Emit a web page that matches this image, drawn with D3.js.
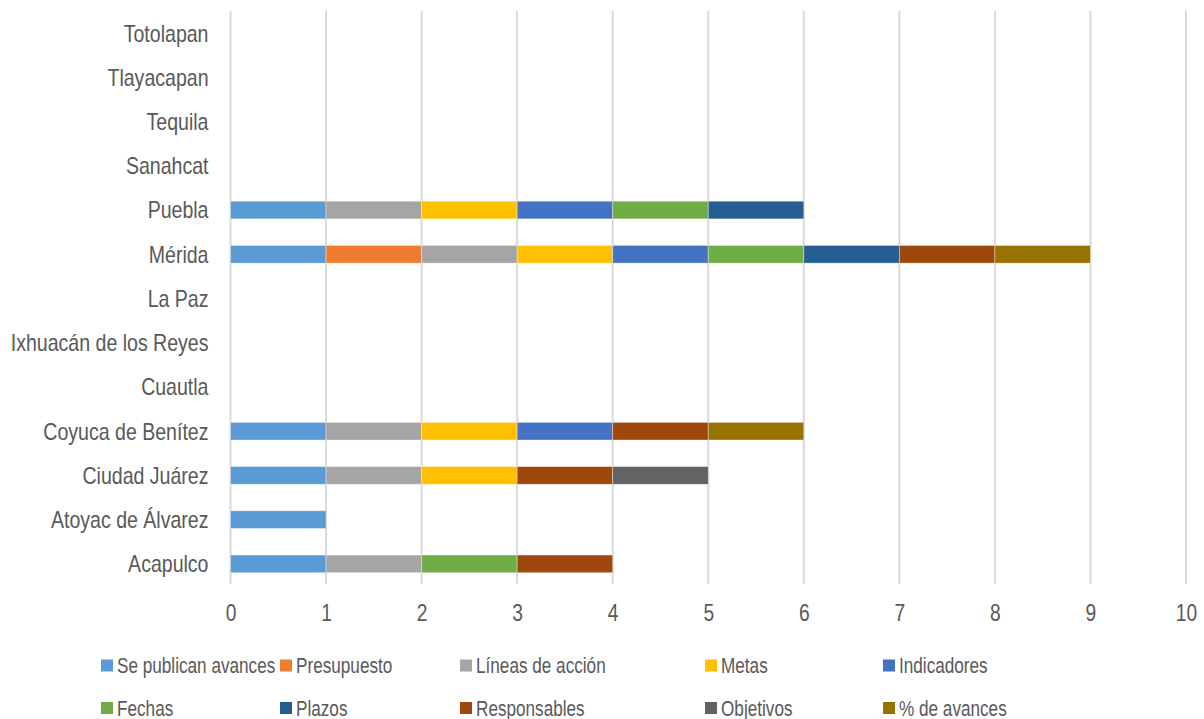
<!DOCTYPE html>
<html lang="es">
  <head>
    <meta charset="UTF-8">
    <title>Elementos publicados por municipio</title>
    <style>
      body { margin: 0; background: #fff; }
      text {
        font-family: "Liberation Sans", Arial, sans-serif;
        fill: #595959;
      }
      .grid line { stroke: #d9d9d9; stroke-width: 2; }
    </style>
  </head>
  <body>
    <svg id="chart"></svg>

    <script src="https://cdn.jsdelivr.net/npm/d3@7/dist/d3.min.js"></script>

    <script>
      // Municipalities, bottom to top as in the chart
      var municipios = ["Acapulco", "Atoyac de Álvarez", "Ciudad Juárez", "Coyuca de Benítez",
        "Cuautla", "Ixhuacán de los Reyes", "La Paz", "Mérida", "Puebla",
        "Sanahcat", "Tequila", "Tlayacapan", "Totolapan"];

      var series = ["Se publican avances", "Presupuesto", "Líneas de acción", "Metas",
        "Indicadores", "Fechas", "Plazos", "Responsables", "Objetivos", "% de avances"];

      var colores = ["#5b9bd5", "#ed7d31", "#a5a5a5", "#ffc000", "#4472c4",
        "#70ad47", "#255e91", "#9e480e", "#636363", "#997300"];

      // One value per municipality (same order as municipios)
      var sePublicanAvances = [1, 1, 1, 1, 0, 0, 0, 1, 1, 0, 0, 0, 0];
      var presupuesto       = [0, 0, 0, 0, 0, 0, 0, 1, 0, 0, 0, 0, 0];
      var lineasDeAccion    = [1, 0, 1, 1, 0, 0, 0, 1, 1, 0, 0, 0, 0];
      var metas             = [0, 0, 1, 1, 0, 0, 0, 1, 1, 0, 0, 0, 0];
      var indicadores       = [0, 0, 0, 1, 0, 0, 0, 1, 1, 0, 0, 0, 0];
      var fechas            = [1, 0, 0, 0, 0, 0, 0, 1, 1, 0, 0, 0, 0];
      var plazos            = [0, 0, 0, 0, 0, 0, 0, 1, 1, 0, 0, 0, 0];
      var responsables      = [1, 0, 1, 1, 0, 0, 0, 1, 0, 0, 0, 0, 0];
      var objetivos         = [0, 0, 1, 0, 0, 0, 0, 0, 0, 0, 0, 0, 0];
      var pctAvances        = [0, 0, 0, 1, 0, 0, 0, 1, 0, 0, 0, 0, 0];

      var xTicks = [0, 1, 2, 3, 4, 5, 6, 7, 8, 9, 10];

      var valores = [sePublicanAvances, presupuesto, lineasDeAccion, metas, indicadores,
        fechas, plazos, responsables, objetivos, pctAvances];

      var width = 1204, height = 719;
      var margin = { top: 11, right: 18, bottom: 135, left: 230.5 };

      var svg = d3.select("#chart")
        .attr("width", width)
        .attr("height", height);

      // Build rows for d3.stack
      var rows = municipios.map(function(m, i) {
        var row = { municipio: m };
        series.forEach(function(s, j) { row[s] = valores[j][i]; });
        return row;
      });

      var stacked = d3.stack().keys(series)(rows);

      var x = d3.scaleLinear()
        .domain([0, 10])
        .range([margin.left, margin.left + 95.55 * 10]);

      var y = d3.scaleBand()
        .domain(municipios.slice().reverse())
        .range([margin.top, height - margin.bottom + 2])
        .paddingInner(0.6)
        .paddingOuter(0.3);

      var color = d3.scaleOrdinal().domain(series).range(colores);

      // Vertical gridlines
      svg.append("g")
        .attr("class", "grid")
        .selectAll("line")
        .data(xTicks)
        .enter()
        .append("line")
        .attr("x1", function(d) { return x(d); })
        .attr("x2", function(d) { return x(d); })
        .attr("y1", margin.top)
        .attr("y2", height - margin.bottom);

      // Stacked bars
      svg.append("g")
        .selectAll("g")
        .data(stacked)
        .enter()
        .append("g")
        .attr("fill", function(d) { return color(d.key); })
        .selectAll("rect")
        .data(function(d) { return d.filter(function(p) { return p[1] > p[0]; }); })
        .enter()
        .append("rect")
        .attr("x", function(d) { return x(d[0]); })
        .attr("width", function(d) { return x(d[1]) - x(d[0]); })
        .attr("y", function(d) { return y(d.data.municipio); })
        .attr("height", y.bandwidth())
        .attr("stroke", "#fff")
        .attr("stroke-opacity", 0.5)
        .attr("stroke-width", 0.75);

      // X axis labels (narrow font look via horizontal scale)
      var xAxis = svg.append("g")
        .attr("transform", "translate(0," + (height - margin.bottom) + ")")
        .call(d3.axisBottom(x).tickValues(xTicks).tickSize(0).tickPadding(20));
      xAxis.select(".domain").remove();
      xAxis.selectAll("text")
        .attr("fill", "#595959")
        .attr("transform", "scale(0.8,1)")
        .style("font-size", "24px")
        .style("font-family", null);

      // Y axis labels
      var yAxis = svg.append("g")
        .attr("transform", "translate(" + (margin.left - 22) + ",0)")
        .call(d3.axisLeft(y).tickSize(0).tickPadding(0));
      yAxis.select(".domain").remove();
      yAxis.selectAll("text")
        .attr("fill", "#595959")
        .attr("dy", "0.35em")
        .attr("transform", "scale(0.815,1)")
        .style("font-size", "24px")
        .style("font-family", null);

      // Legend (two rows of five)
      var legendCols = [101, 280, 460, 705, 883];
      var legendRows = [665.5, 708];

      var legend = svg.append("g")
        .selectAll("g")
        .data(series)
        .enter()
        .append("g")
        .attr("transform", function(d, i) {
          return "translate(" + legendCols[i % 5] + "," + legendRows[Math.floor(i / 5)] + ")";
        });

      legend.append("rect")
        .attr("x", 0)
        .attr("y", -6)
        .attr("width", 12)
        .attr("height", 12)
        .attr("fill", function(d) { return color(d); });

      legend.append("text")
        .attr("transform", "translate(16,0) scale(0.78,1)")
        .attr("dy", "0.35em")
        .style("font-size", "22px")
        .text(function(d) { return d; });
    </script>
  </body>
</html>
